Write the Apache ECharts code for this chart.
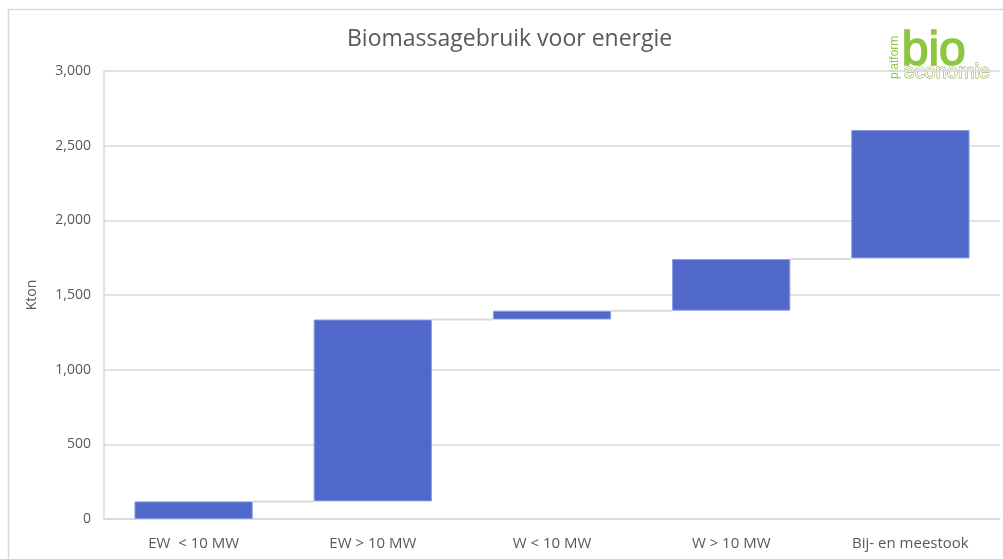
<!DOCTYPE html>
<html>
<head>
<meta charset="utf-8">
<script src="https://cdn.jsdelivr.net/npm/echarts@6/dist/echarts.min.js"></script>
<style>
  html, body { margin: 0; padding: 0; background: #fff; }
  #chart { width: 1003px; height: 559px; }
</style>
</head>
<body>
<div id="chart"></div>
<script>
// waterfall: invisible base + visible step per category
const categories = ['EW  < 10 MW', 'EW > 10 MW', 'W < 10 MW', 'W > 10 MW', 'Bij- en meestook'];
const baseValues = [0, 118, 1336, 1395, 1745];
const stepValues = [118, 1218, 59, 346, 860];
const connectorLevels = [118, 1336, 1395, 1741];

const BAR_RATIO = 0.66;
const chart = echarts.init(document.getElementById('chart'));
const font = '"Open Sans", "Noto Sans", sans-serif';

chart.setOption({
    animation: false,
    title: {
        text: 'Biomassagebruik voor energie',
        left: 342,
        top: 23,
        textStyle: { fontFamily: font, fontSize: 23, fontWeight: 'normal', color: '#595959' }
    },
    grid: { left: 104, right: 3, top: 71, bottom: 40 },
    xAxis: {
        type: 'category',
        data: categories,
        axisLine: { lineStyle: { color: '#d9d9d9', width: 1.5 } },
        axisTick: { show: false },
        axisLabel: { fontFamily: font, fontSize: 15, color: '#595959', margin: 17 }
    },
    yAxis: {
        type: 'value',
        min: 0,
        max: 3000,
        interval: 500,
        name: 'Kton',
        nameLocation: 'middle',
        nameGap: 65,
        nameTextStyle: { fontFamily: font, fontSize: 14, color: '#595959' },
        axisLine: { show: true, lineStyle: { color: '#d9d9d9', width: 1.5 } },
        axisTick: { show: false },
        axisLabel: {
            fontFamily: font, fontSize: 14, color: '#595959', margin: 13,
            formatter: v => v.toLocaleString('en-US')
        },
        splitLine: { lineStyle: { color: '#d9d9d9', width: 1.5 } }
    },
    series: [
        {
            type: 'custom',
            z: 1,
            silent: true,
            data: connectorLevels.map((v, i) => [i, v]),
            renderItem: (params, api) => {
                const half = api.size([1, 0])[0] * BAR_RATIO / 2;
                const start = api.coord([api.value(0), api.value(1)]);
                const end = api.coord([api.value(0) + 1, api.value(1)]);
                return {
                    type: 'line',
                    shape: { x1: start[0] + half, y1: start[1], x2: end[0] - half, y2: end[1] },
                    style: { stroke: '#d9d9d9', lineWidth: 2 }
                };
            }
        },
        {
            type: 'bar',
            stack: 'total',
            z: 2,
            barWidth: (BAR_RATIO * 100) + '%',
            silent: true,
            itemStyle: { color: 'transparent' },
            data: baseValues
        },
        {
            type: 'bar',
            stack: 'total',
            z: 2,
            barWidth: (BAR_RATIO * 100) + '%',
            itemStyle: { color: '#4f68c9', borderColor: '#8c9de0', borderWidth: 1 },
            data: stepValues
        }
    ],
    graphic: [
        {
            type: 'rect',
            shape: { x: 8.5, y: 9.5, width: 1100, height: 600 },
            style: { fill: 'none', stroke: '#d9d9d9', lineWidth: 1.5 },
            silent: true
        },
        {
            type: 'text',
            left: 901,
            top: 27,
            style: { text: 'bio', font: '48px "Liberation Sans", sans-serif', fill: '#8dc63f', stroke: '#8dc63f', lineWidth: 1.5 }
        },
        {
            type: 'text',
            left: 903,
            top: 62,
            style: { text: 'economie', font: '20px "Liberation Sans", sans-serif', fill: '#fff', stroke: '#8a9b3a', lineWidth: 1 }
        },
        {
            type: 'text',
            x: 889,
            y: 79,
            rotation: Math.PI / 2,
            style: { text: 'platform', font: '12px "Liberation Sans", sans-serif', fill: '#8dc63f' }
        }
    ]
});
</script>
</body>
</html>
